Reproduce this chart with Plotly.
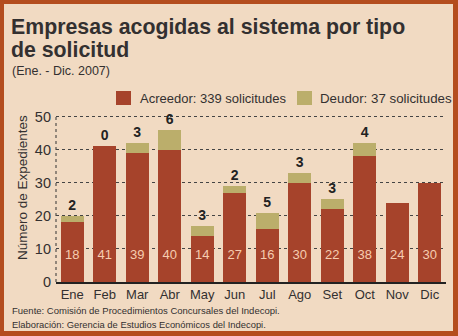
import plotly.graph_objects as go

meses = ["Ene", "Feb", "Mar", "Abr", "May", "Jun", "Jul", "Ago", "Set", "Oct", "Nov", "Dic"]
acreedor = [18, 41, 39, 40, 14, 27, 16, 30, 22, 38, 24, 30]
deudor = [2, 0, 3, 6, 3, 2, 5, 3, 3, 4, None, None]
y_ticks = [0, 10, 20, 30, 40, 50]
leyenda = ["Acreedor: 339 solicitudes", "Deudor: 37 solicitudes"]

C_ACR = "#a6432b"
C_DEU = "#bbae6b"
BG = "#f1dac2"
BORDER = "#b44d1e"
TXT = "#333030"
FONT = "Liberation Sans, Arial, sans-serif"

fig = go.Figure()
fig.add_trace(go.Bar(
    x=meses, y=acreedor, name=leyenda[0], showlegend=False,
    marker=dict(color=C_ACR, line=dict(width=0)),
    text=[f"{v}<br> " for v in acreedor], textposition="inside",
    insidetextanchor="start",
    textfont=dict(color="#f6cdb0", size=13, family=FONT),
))
fig.add_trace(go.Bar(
    x=meses, y=[d if d is not None else 0 for d in deudor],
    name=leyenda[1], showlegend=False,
    marker=dict(color=C_DEU, line=dict(width=0)),
    text=["" if d is None else f"<b>{d}</b>" for d in deudor],
    textposition="outside", cliponaxis=False,
    textfont=dict(color="#222222", size=14, family=FONT),
))

W, H = 458, 336
L, R, T, B = 56, 12, 115, 54
pw, ph = W - L - R, H - T - B

def px(x):
    return (x - L) / pw

def py(y):
    return (H - B - y) / ph

shapes = [
    # inner paper
    dict(type="rect", xref="paper", yref="paper", x0=px(4), x1=px(453), y0=py(331), y1=py(4),
         fillcolor=BG, line=dict(width=0), layer="below"),
    # left dotted axis
    dict(type="line", xref="paper", yref="y", x0=0, x1=0, y0=0, y1=50,
         line=dict(color="#333333", width=1, dash="dot"), layer="below"),
    # legend swatches
    dict(type="rect", xref="paper", yref="paper", x0=px(116), x1=px(131), y0=py(105), y1=py(91),
         fillcolor=C_ACR, line=dict(width=0)),
    dict(type="rect", xref="paper", yref="paper", x0=px(297), x1=px(312), y0=py(105), y1=py(91),
         fillcolor=C_DEU, line=dict(width=0)),
]

def ann(text, x, y, size, bold=False, color=TXT, angle=0, xanchor="left"):
    return dict(text=f"<b>{text}</b>" if bold else text, xref="paper", yref="paper",
                x=px(x), y=py(y), xanchor=xanchor, yanchor="middle", showarrow=False,
                textangle=angle, font=dict(size=size, color=color, family=FONT))

annotations = [
    ann("Empresas acogidas al sistema por tipo", 9, 27, 21.3, bold=True),
    ann("de solicitud", 9, 50, 21.3, bold=True),
    ann("(Ene. - Dic. 2007)", 10, 71, 12.5),
    ann(leyenda[0], 138, 98, 13),
    ann(leyenda[1], 318, 98, 13.3),
    ann("Fuente: Comisión de Procedimientos Concursales del Indecopi.", 10, 310, 9.5),
    ann("Elaboración: Gerencia de Estudios Económicos del Indecopi.", 10, 324, 9.4),
    ann("Número de Expedientes", 22, 188, 13.5, angle=-90, xanchor="center"),
]

fig.update_layout(
    width=W, height=H,
    margin=dict(l=L, r=R, t=T, b=B),
    paper_bgcolor=BORDER, plot_bgcolor="rgba(0,0,0,0)",
    barmode="stack", bargap=0.28,
    font=dict(family=FONT, color=TXT),
    shapes=shapes, annotations=annotations,
    xaxis=dict(showline=True, linecolor="#222222", linewidth=1.5, ticks="",
               tickfont=dict(size=13, color=TXT)),
    yaxis=dict(range=[0, 50.5], tickvals=y_ticks, showgrid=True, gridcolor="#444444",
               griddash="dot", gridwidth=1, zeroline=False, showline=False,
               tickfont=dict(size=14.5, color=TXT), ticklabelstandoff=4),
    showlegend=False,
)

fig.write_html("out.html")
